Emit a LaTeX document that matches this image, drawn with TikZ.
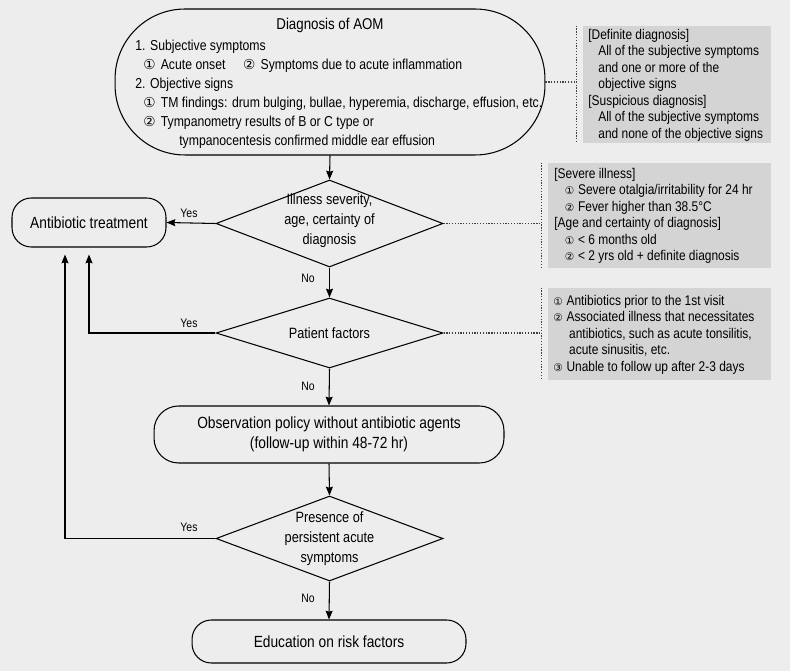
\documentclass[tikz,border=0pt]{standalone}
\usepackage{fontspec}
\setmainfont{Liberation Sans}[FakeStretch=0.85]
\newfontfamily\symfont{DejaVu Sans}
\usetikzlibrary{shapes.geometric, arrows.meta}

\definecolor{bggray}{HTML}{EDEDED}
\definecolor{notegray}{HTML}{D4D4D4}

% circled numbers, in the main box and in the notes
\newcommand{\cnbig}[1]{\makebox[10pt][l]{\symfont\fontsize{7.8}{8}\selectfont #1}}
\newcommand{\cnsmall}[1]{\makebox[7.5pt][l]{\symfont\fontsize{6}{7}\selectfont #1}}

\tikzset{
  termbox/.style={draw, line width=0.6pt, align=center, inner sep=0pt,
    font=\fontsize{9.2}{11.3}\selectfont},
  decide/.style={draw, diamond, line width=0.6pt, inner sep=0pt,
    minimum width=4.54cm},
  dtext/.style={align=center, inner sep=0pt, font=\fontsize{8.5}{11.2}\selectfont},
  note/.style={fill=notegray, inner sep=0pt, minimum width=4.46cm},
  notetext/.style={align=left, anchor=west, inner sep=0pt,
    font=\fontsize{8}{9.4}\selectfont},
  link/.style={line width=0.6pt, -{Stealth[length=5pt,width=4pt,inset=0.6pt]}},
  dotline/.style={line width=0.7pt, draw=black!75, dash pattern=on 0.7pt off 0.9pt},
  answer/.style={inner sep=0pt, font=\fontsize{7}{8}\selectfont}
}

\begin{document}
\begin{tikzpicture}[x=0.02cm, y=-0.02cm]
  \fill[bggray] (0,0) rectangle (790,671);
  \useasboundingbox (0,0) rectangle (790,671);

  % diagnosis
  \node[termbox, minimum width=8.6cm, minimum height=2.92cm, rounded corners=1.4cm] (diag) at (330,82) {};
  \node[inner sep=0pt, font=\fontsize{8.9}{10}\selectfont] (diagtitle) at (330,25) {Diagnosis of AOM};
  \node[notetext, font=\fontsize{8.2}{10.8}\selectfont] (diaglist) at (135,94.5) {%
    1. Subjective symptoms\\
    \hspace*{4.5pt}\cnbig{①}Acute onset\hspace{10pt}\cnbig{②}Symptoms due to acute inflammation\\
    2. Objective signs\\
    \hspace*{4.5pt}\cnbig{①}TM findings: drum bulging, bullae, hyperemia, discharge, effusion, etc.\\
    \hspace*{4.5pt}\cnbig{②}Tympanometry results of B or C type or\\
    \hspace*{25pt}tympanocentesis confirmed middle ear effusion};

  % flow
  \node[termbox, minimum width=3.08cm, minimum height=0.98cm, rounded corners=11pt] (anti) at (89,222.5) {Antibiotic treatment};
  \node[decide, minimum height=1.74cm,
    label={[dtext, yshift=0.06cm]center:{Illness severity,\\age, certainty of\\diagnosis}}] (sev) at (329.5,223.5) {};
  \node[decide, minimum height=1.4cm,
    label={[dtext]center:{Patient factors}}] (pat) at (329.5,333) {};
  \node[termbox, minimum width=7cm, minimum height=1.14cm, rounded corners=14pt] (obs) at (329,434.5)
    {Observation policy without antibiotic agents\\(follow-up within 48-72 hr)};
  \node[decide, minimum height=1.7cm,
    label={[dtext]center:{Presence of\\persistent acute\\symptoms}}] (pers) at (329.5,538.5) {};
  \node[termbox, minimum width=5.48cm, minimum height=0.86cm, rounded corners=11pt] (edu) at (329,641.5) {Education on risk factors};

  % notes
  \node[note, minimum width=3.76cm, minimum height=2.34cm] (note1) at (677,84.5) {};
  \node[notetext] (note1text) at (588,85) {%
    {[}Definite diagnosis{]}\\
    \hspace*{5.7pt}All of the subjective symptoms\\
    \hspace*{5.7pt}and one or more of the\\
    \hspace*{5.7pt}objective signs\\
    {[}Suspicious diagnosis{]}\\
    \hspace*{5.7pt}All of the subjective symptoms\\
    \hspace*{5.7pt}and none of the objective signs};
  \node[note, minimum height=2.1cm] (note2) at (659.5,215.5) {};
  \node[notetext] (note2text) at (554,216) {%
    {[}Severe illness{]}\\
    \hspace*{6pt}\cnsmall{①}Severe otalgia/irritability for 24 hr\\
    \hspace*{6pt}\cnsmall{②}Fever higher than 38.5°C\\
    {[}Age and certainty of diagnosis{]}\\
    \hspace*{6pt}\cnsmall{①}< 6 months old\\
    \hspace*{6pt}\cnsmall{②}< 2 yrs old + definite diagnosis};
  \node[note, minimum height=1.84cm] (note3) at (659.5,334) {};
  \node[notetext] (note3text) at (553,334.5) {%
    \cnsmall{①}Antibiotics prior to the 1st visit\\
    \cnsmall{②}Associated illness that necessitates\\
    \hspace*{9pt}antibiotics, such as acute tonsilitis,\\
    \hspace*{9pt}acute sinusitis, etc.\\
    \cnsmall{③}Unable to follow up after 2-3 days};

  % dotted leaders
  \coordinate (n1top) at ([xshift=-0.12cm]note1.north west);
  \coordinate (n1bot) at ([xshift=-0.12cm]note1.south west);
  \coordinate (n2top) at ([xshift=-0.12cm]note2.north west);
  \coordinate (n2bot) at ([xshift=-0.12cm]note2.south west);
  \coordinate (n3top) at ([xshift=-0.12cm]note3.north west);
  \coordinate (n3bot) at ([xshift=-0.12cm]note3.south west);
  \draw[dotline] (n1top) -- (n1bot);
  \draw[dotline] (n2top) -- (n2bot);
  \draw[dotline] (n3top) -- (n3bot);
  \draw[dotline] (diag.east) -- (diag.east -| n1top);
  \draw[dotline] (sev.east) -- (sev.east -| n2top);
  \draw[dotline] (pat.east) -- (pat.east -| n3top);

  % connectors
  \draw[link] (diag.south) -- (sev.north);
  \draw[link] (sev.west) -- (anti.east);
  \draw[link] (sev.south) -- (pat.north);
  \draw[link] (pat.west) -| ([yshift=-0.14cm]anti.south);
  \draw[link] (pat.south) -- (obs.north);
  \draw[link] (obs.south) -- (pers.north);
  \draw[link] (pers.west) -| ([xshift=-0.48cm, yshift=-0.14cm]anti.south);
  \draw[link] (pers.south) -- (edu.north);

  % labels
  \node[answer] (yes1) at (189,213) {Yes};
  \node[answer] (yes2) at (189,323) {Yes};
  \node[answer] (yes3) at (189,527) {Yes};
  \node[answer] (no1) at (308,278) {No};
  \node[answer] (no2) at (308,386) {No};
  \node[answer] (no3) at (308,598) {No};
\end{tikzpicture}
\end{document}
